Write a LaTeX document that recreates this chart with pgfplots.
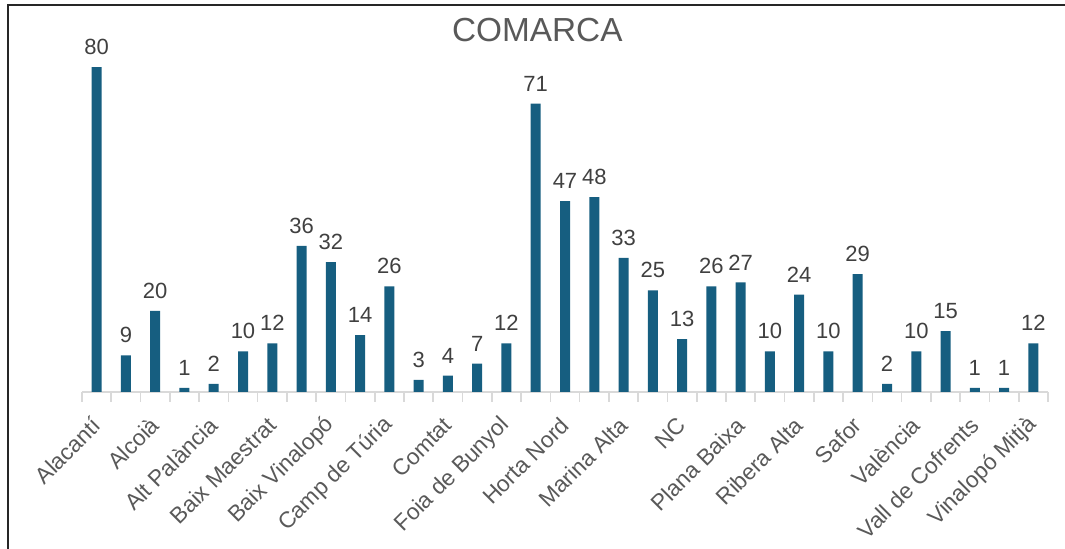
\documentclass[border=0pt]{standalone}
\usepackage{pgfplots}
\pgfplotsset{compat=1.18}
\usepackage{fontspec}
\setmainfont{Liberation Sans}
\definecolor{barblue}{RGB}{22,94,128}
\definecolor{txtgrey}{RGB}{89,89,89}
\definecolor{lblgrey}{RGB}{64,64,64}
\definecolor{axgrey}{RGB}{217,217,217}
\begin{document}
\begin{tikzpicture}
\useasboundingbox (0,0) rectangle (798.75pt,411.75pt);
% frame: left and top edges only
\draw[line width=1.5pt, black!85] (6pt,0) -- (6pt,408pt) -- (798.75pt,408pt);
\node[font=\fontsize{25}{30}\selectfont, text=txtgrey, anchor=base] at (403pt,380.25pt) {COMARCA};
\begin{axis}[
    at={(61.5pt,117.75pt)}, anchor=south west,
    scale only axis, width=724.5pt, height=274.2pt,
    xmin=-0.5, xmax=32.5, ymin=0, ymax=90,
    axis y line=none, axis x line*=bottom,
    axis line style={draw=axgrey, line width=1.2pt, -},
    ybar, bar width=7.5pt, bar shift=0pt,
    xtick={0,2,...,32},
    xticklabels={Alacantí, Alcoià, Alt Palància, Baix Maestrat, Baix Vinalopó, Camp de Túria, Comtat, Foia de Bunyol, Horta Nord, Marina Alta, NC, Plana Baixa, Ribera Alta, Safor, València, Vall de Cofrents, Vinalopó Mitjà},
    major tick length=0pt,
    minor xtick={-0.5,0.5,...,32.5},
    minor tick length=7.5pt,
    tick align=outside,
    minor tick style={draw=axgrey, line width=1.2pt},
    xticklabel style={yshift=-22pt, rotate=45, anchor=east, inner sep=0pt,
        font=\fontsize{17}{20}\selectfont, text=txtgrey},
    /pgf/number format/assume math mode=true,
    nodes near coords,
    every node near coord/.append style={font=\fontsize{16.5}{20}\selectfont,
        text=lblgrey, anchor=south, inner sep=0pt, yshift=9pt},
    clip=false,
]
\addplot[fill=barblue, draw=none] coordinates {
(0,80) (1,9) (2,20) (3,1) (4,2) (5,10) (6,12) (7,36) (8,32) (9,14) (10,26)
(11,3) (12,4) (13,7) (14,12) (15,71) (16,47) (17,48) (18,33) (19,25) (20,13)
(21,26) (22,27) (23,10) (24,24) (25,10) (26,29) (27,2) (28,10) (29,15) (30,1)
(31,1) (32,12)};
\end{axis}
\end{tikzpicture}
\end{document}
